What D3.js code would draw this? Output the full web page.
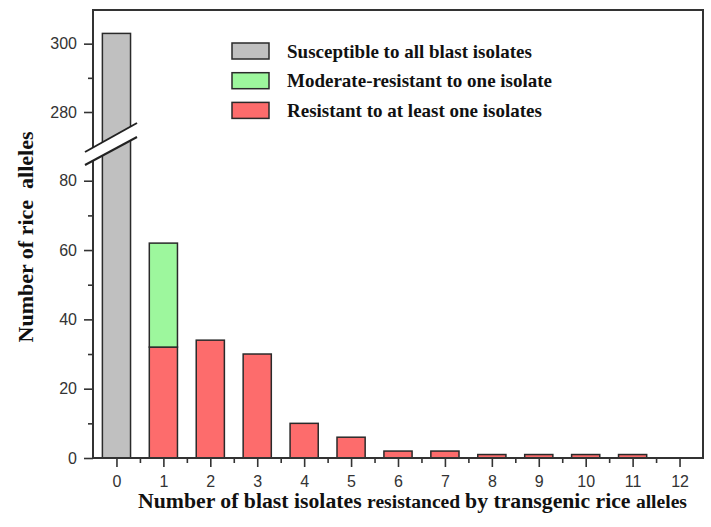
<!DOCTYPE html>
<html>
<head>
<meta charset="utf-8">
<script src="https://cdn.jsdelivr.net/npm/d3@7"></script>
<style>
  body { margin: 0; background: #fff; }
</style>
</head>
<body>
<div id="chart"></div>
<script>
// x categories: number of blast isolates resisted
const isolates = [0, 1, 2, 3, 4, 5, 6, 7, 8, 9, 10, 11, 12];
// series values
const susceptible = [303, 0, 0, 0, 0, 0, 0, 0, 0, 0, 0, 0, 0];
const resistant   = [0, 32, 34, 30, 10, 6, 2, 2, 1, 1, 1, 1, 0];
const moderate    = [0, 30, 0, 0, 0, 0, 0, 0, 0, 0, 0, 0, 0];

const seriesKeys = ['susceptible', 'resistant', 'moderate'];
const legendKeys = ['susceptible', 'moderate', 'resistant'];
const legendLabels = ['Susceptible to all blast isolates', 'Moderate-resistant to one isolate', 'Resistant to at least one isolates'];

// y axis is broken between 88 and 268
const yDomain = [0, 88, 268, 310];
const yTicks = [0, 20, 40, 60, 80, 280, 300];
const yMinorTicks = [10, 30, 50, 70, 290];
const xMinorTicks = [0.5, 1.5, 2.5, 3.5, 4.5, 5.5, 6.5, 7.5, 8.5, 9.5, 10.5, 11.5];

const xTitle = ['Number of blast isolates ', 'resistanced ', 'by transgenic rice ', 'alleles'];
const yTitle = 'Number of rice  alleles';

const colors = {susceptible: '#c0c0c0', moderate: '#9df79d', resistant: '#fd6c6c'};

const W = 711, H = 527;
const margin = {top: 10, right: 8, bottom: 69, left: 93};

const svg = d3.select('#chart')
    .append('svg')
    .attr('width', W)
    .attr('height', H);

const x = d3.scaleLinear()
    .domain([-0.5, 12.5])
    .range([margin.left, W - margin.right]);

// polylinear scale does the break: 88..268 collapse onto one pixel row
const y = d3.scaleLinear()
    .domain(yDomain)
    .range([H - margin.bottom, 153, 153, 9.5]);

const barW = (x(1) - x(0)) * 0.6;

const table = isolates.map((d, i) => ({
    isolates: d,
    susceptible: susceptible[i],
    resistant: resistant[i],
    moderate: moderate[i]
}));
const stacked = d3.stack().keys(seriesKeys)(table);

// bars
const layers = svg.selectAll('.layer')
    .data(stacked)
    .enter().append('g')
    .attr('class', 'layer')
    .style('fill', d => colors[d.key]);

layers.selectAll('rect')
    .data(d => d.filter(v => v[1] > v[0]))
    .enter().append('rect')
    .attr('x', d => x(d.data.isolates) - barW / 2)
    .attr('width', barW)
    .attr('y', d => y(d[1]))
    .attr('height', d => y(d[0]) - y(d[1]))
    .style('stroke', '#2a2a2a')
    .style('stroke-width', '1.5px');

// axes
const tickFont = '"Liberation Sans", Arial, sans-serif';

const xAxis = svg.append('g')
    .attr('transform', `translate(0,${H - margin.bottom})`)
    .call(d3.axisBottom(x).tickValues(isolates).tickSize(9).tickSizeOuter(0).tickPadding(9));
const xMinor = svg.append('g')
    .attr('transform', `translate(0,${H - margin.bottom})`)
    .call(d3.axisBottom(x).tickValues(xMinorTicks).tickSize(5).tickFormat(''));

const yAxis = svg.append('g')
    .attr('transform', `translate(${margin.left},0)`)
    .call(d3.axisLeft(y).tickValues(yTicks).tickSize(9).tickSizeOuter(0).tickPadding(7));
const yMinor = svg.append('g')
    .attr('transform', `translate(${margin.left},0)`)
    .call(d3.axisLeft(y).tickValues(yMinorTicks).tickSize(5).tickFormat(''));

[xAxis, xMinor, yAxis, yMinor].forEach(g => {
    g.select('.domain').remove();
    g.selectAll('line').style('stroke', '#333').style('stroke-width', '1.6px');
    g.selectAll('text')
        .style('font-family', tickFont)
        .style('font-size', '16px')
        .style('fill', '#333');
});

// frame
svg.append('rect')
    .attr('x', margin.left)
    .attr('y', margin.top)
    .attr('width', W - margin.left - margin.right)
    .attr('height', H - margin.top - margin.bottom)
    .style('fill', 'none')
    .style('stroke', '#333')
    .style('stroke-width', '2px');

// break marks on the y axis
const bx = margin.left, by = y(yDomain[1]);
svg.append('polygon')
    .attr('points', [[bx - 8, by - 1], [bx + 44, by - 30], [bx + 44, by - 16], [bx - 8, by + 12]].join(' '))
    .style('fill', '#fff');
[[-1, -30], [12, -16]].forEach(o => {
    svg.append('line')
        .attr('x1', bx - 8).attr('y1', by + o[0])
        .attr('x2', bx + 44).attr('y2', by + o[1])
        .style('stroke', '#222')
        .style('stroke-width', '2px');
});

// legend
const serif = '"Liberation Serif", "Times New Roman", serif';
const legend = svg.append('g')
    .attr('transform', 'translate(232,43)');

const items = legend.selectAll('.item')
    .data(legendKeys)
    .enter().append('g')
    .attr('class', 'item')
    .attr('transform', (d, i) => `translate(0,${i * 29.7})`);

items.append('rect')
    .attr('width', 37)
    .attr('height', 16)
    .style('fill', d => colors[d])
    .style('stroke', '#2a2a2a')
    .style('stroke-width', '1.5px');

items.append('text')
    .attr('x', 55)
    .attr('y', 8)
    .attr('dy', '0.35em')
    .text((d, i) => legendLabels[i])
    .style('font-family', serif)
    .style('font-weight', 'bold')
    .style('font-size', '19px')
    .style('fill', '#111');

// axis titles
svg.append('text')
    .attr('transform', 'translate(33,237) rotate(-90)')
    .attr('text-anchor', 'middle')
    .attr('textLength', 211)
    .attr('lengthAdjust', 'spacingAndGlyphs')
    .text(yTitle)
    .style('font-family', serif)
    .style('font-weight', 'bold')
    .style('font-size', '21px')
    .style('fill', '#111')
    .style('white-space', 'pre');

// x title has mixed sizes in the original
const xTitleSizes = [20, 18, 20, 18];
svg.append('text')
    .attr('x', 138)
    .attr('y', 508)
    .attr('textLength', 549)
    .attr('lengthAdjust', 'spacingAndGlyphs')
    .style('font-family', serif)
    .style('font-weight', 'bold')
    .style('fill', '#111')
    .style('white-space', 'pre')
    .selectAll('tspan')
    .data(xTitle)
    .enter().append('tspan')
    .text(d => d)
    .style('font-size', (d, i) => xTitleSizes[i] + 'px');
</script>
</body>
</html>
